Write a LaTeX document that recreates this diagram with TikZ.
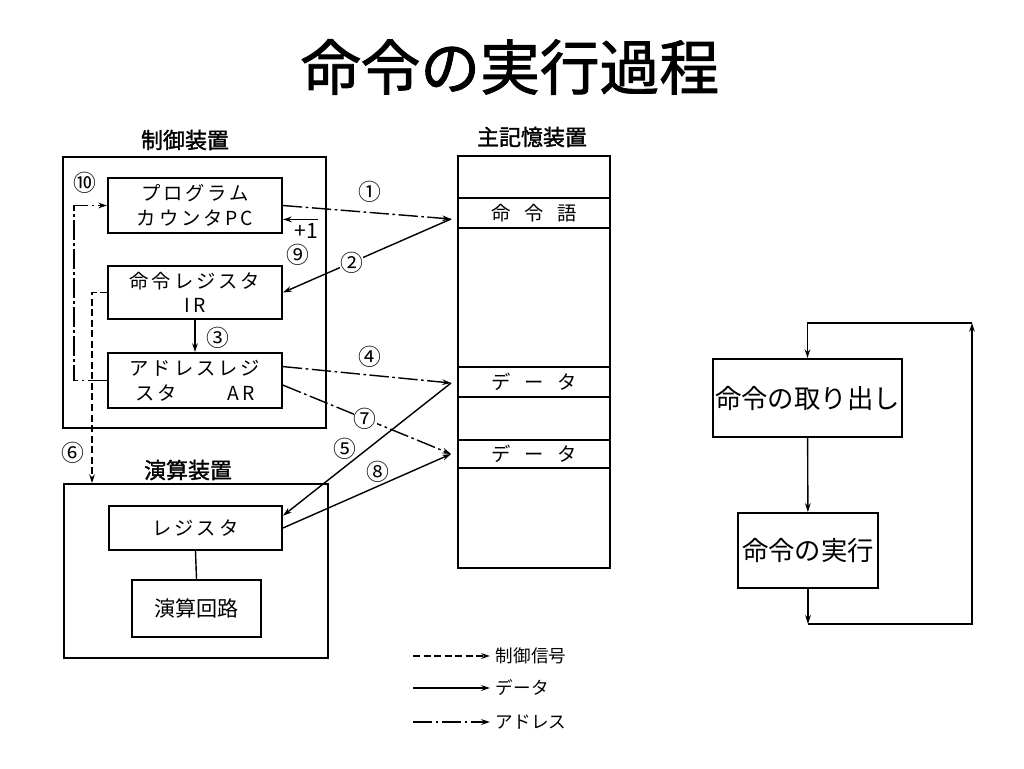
\documentclass[tikz,border=0pt]{standalone}
\usepackage{fontspec}
\setmainfont{Noto Sans CJK JP}
\newfontfamily\jpsp{Noto Sans CJK JP}[LetterSpace=15]
\newfontfamily\jpmed{Noto Sans CJK JP}[FakeBold=1.5]
\usetikzlibrary{arrows.meta,calc}

\tikzset{
	blok/.style={draw, line width=1.1pt, align=center, inner sep=0pt},
	napis/.style={font=\jpsp\fontsize{11}{14}\selectfont},
	etykieta/.style={font=\jpmed\fontsize{12.5}{14}\selectfont, inner sep=1pt},
	num/.style={font=\fontsize{13}{13}\selectfont, inner sep=0pt},
	ctrl/.style={dash pattern=on 4pt off 2pt},
	addr/.style={dash pattern=on 11pt off 2pt on 1.5pt off 2pt},
	>={Stealth[length=5pt,width=3.2pt]}
}

\begin{document}
\begin{tikzpicture}[x=0.02cm, y=-0.02cm, line width=0.8pt]
		\useasboundingbox (0,0) rectangle (1024,768);

		% Tytul
		\node[font=\jpmed\fontsize{34}{40}\selectfont] (title) at (510,67) {命令の実行過程};

		% Sterowanie
		\node[blok, minimum width=5.27cm, minimum height=5.43cm] (ctrl) at (194.4,292.4) {};
		\node[etykieta] (ctrllbl) at (185,140) {制御装置};
		\node[blok, napis, minimum width=3.48cm, minimum height=1.1cm] (PC) at (195,205.5) {プログラム\\カウンタPC};
		\node[blok, napis, minimum width=3.48cm, minimum height=1.06cm] (IR) at (195,292.5) {命令レジスタ\\IR};
		\node[blok, napis, minimum width=3.48cm, minimum height=1.1cm] (AR) at (195,380.5) {アドレスレジ\\スタ\hspace{2.6em}AR};

		% Jednostka arytmetyczna
		\node[blok, minimum width=5.28cm, minimum height=3.48cm] (alu) at (196,571) {};
		\node[etykieta] (alulbl) at (188,470) {演算装置};
		\node[blok, napis, minimum width=3.46cm, minimum height=0.88cm] (reg) at (195.5,528) {レジスタ};
		\node[blok, font=\fontsize{12}{14}\selectfont, minimum width=2.58cm, minimum height=1.14cm] (circ) at (196.5,608.5) {演算回路};

		% Pamiec
		\node[blok, minimum width=3.04cm, minimum height=8.24cm] (mem) at (534,362) {};
		\node[etykieta] (memlbl) at (532,137) {主記憶装置};
		\node[blok, napis, minimum width=3.04cm, minimum height=0.6cm] (instr) at (534,213) {命\hspace{0.7em}令\hspace{0.7em}語};
		\node[blok, napis, minimum width=3.04cm, minimum height=0.6cm] (d1) at (534,382) {デ\hspace{0.7em}ー\hspace{0.7em}タ};
		\node[blok, napis, minimum width=3.04cm, minimum height=0.56cm] (d2) at (534,454) {デ\hspace{0.7em}ー\hspace{0.7em}タ};

		\coordinate (iw) at ($(instr.west)+(-6,6)$);
		\coordinate (d1w) at ($(d1.west)+(-6,1)$);
		\coordinate (d2w) at ($(d2.west)+(-6,0)$);
		\coordinate (inc) at ($(PC.-9)+(35,0)$);

		% Strzalki
		\draw[addr,->] (PC.east) -- (iw);
		\draw[->] (iw) -- (IR.east) node[num, fill=white, pos=0.59] (n2) {②};
		\draw[->] (IR.south) -- (AR.north);
		\draw[->] (inc) -- (PC.-9);
		\draw[addr,->] (AR.west) -- ++(-33,0) |- (PC.west);
		\draw[ctrl,->] (IR.west) -- ++(-15,0) coordinate (c6) -- (c6 |- alu.north);
		\draw[addr,->] (AR.9) -- (d1w);
		\draw[addr,->] (AR.-3) -- (d2w) node[num, fill=white, pos=0.49] (n7) {⑦};
		\draw[->] (d1w) -- (reg.8);
		\draw[->] (reg.east) -- (d2w);
		\draw (reg.south) -- (circ.north);

		% Numery
		\node[num] (n1) at (370,192) {①};
		\node[num] (n3) at (218,338) {③};
		\node[num] (n4) at (370,357) {④};
		\node[num] (n5) at (345,449) {⑤};
		\node[num] (n6) at (73,453) {⑥};
		\node[num] (n8) at (378,472) {⑧};
		\node[num] (n9) at (298,255) {⑨};
		\node[num] (n10) at (85,183) {⑩};
		\node[font=\fontsize{12}{12}\selectfont, inner sep=0pt] (plus) at (306,231) {+1};

		% Legenda
		\node[anchor=west, font=\fontsize{10}{12}\selectfont, inner sep=3pt] (t1) at (490,656) {制御信号};
		\node[anchor=west, font=\fontsize{10}{12}\selectfont, inner sep=3pt] (t2) at (490,688) {データ};
		\node[anchor=west, font=\fontsize{10}{12}\selectfont, inner sep=3pt] (t3) at (490,722) {アドレス};
		\coordinate (lg1) at (413,656);
		\coordinate (lg2) at (413,688);
		\coordinate (lg3) at (413,722);
		\draw[ctrl,->] (lg1) -- (t1.west);
		\draw[->] (lg2) -- (t2.west);
		\draw[addr,->] (lg3) -- (t3.west);

		% Cykl
		\node[blok, font=\fontsize{15}{18}\selectfont, minimum width=3.78cm, minimum height=1.56cm] (fetch) at (807.5,398) {命令の取り出し};
		\node[blok, font=\fontsize{15}{18}\selectfont, minimum width=2.8cm, minimum height=1.5cm] (exec) at (808,550.5) {命令の実行};
		\draw[->] (fetch) -- (exec);
		\draw[->] (exec.south) -- ++(0,35) coordinate (lp1);
		\draw[->] (lp1) -- ++(164,0) coordinate (lp2) -- ++(0,-301) coordinate (lp3);
		\draw[->] (lp3) -- (lp3 -| fetch.north) -- (fetch.north);

	\end{tikzpicture}
\end{document}
